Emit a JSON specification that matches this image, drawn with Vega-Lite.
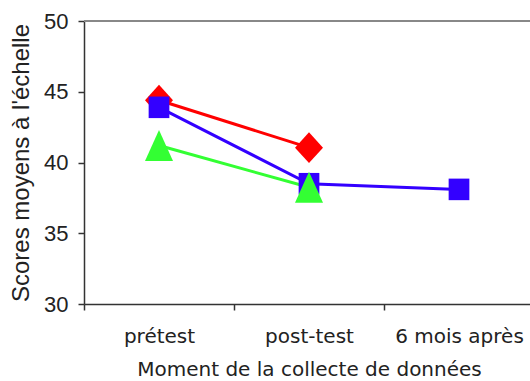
{
  "$schema": "https://vega.github.io/schema/vega-lite/v6.json",
  "width": 446,
  "height": 283,
  "autosize": "none",
  "padding": {"left": 84, "top": 21, "right": 0, "bottom": 77},
  "background": "white",
  "config": {
    "view": {"stroke": null},
    "axis": {
      "grid": false,
      "domainColor": "#333333",
      "domainWidth": 1.5,
      "tickColor": "#333333",
      "tickWidth": 1.5,
      "tickSize": 6,
      "labelColor": "#222222",
      "titleColor": "#222222",
      "titleFontWeight": "normal"
    }
  },
  "data": {
    "values": [
      {"groupe": "Groupe 1", "moment": "prétest", "score": 44.4},
      {"groupe": "Groupe 1", "moment": "post-test", "score": 41.05},
      {"groupe": "Groupe 2", "moment": "prétest", "score": 43.9},
      {"groupe": "Groupe 2", "moment": "post-test", "score": 38.5},
      {"groupe": "Groupe 2", "moment": "6 mois après", "score": 38.1},
      {"groupe": "Groupe 3", "moment": "prétest", "score": 41.2},
      {"groupe": "Groupe 3", "moment": "post-test", "score": 38.25}
    ]
  },
  "layer": [
    {
      "mark": {"type": "rule", "color": "#888888", "strokeWidth": 2},
      "encoding": {"y": {"datum": 50, "type": "quantitative"}}
    },
    {
      "mark": {"type": "line", "strokeWidth": 3},
      "encoding": {
        "x": {
          "field": "moment",
          "type": "nominal",
          "sort": ["prétest", "post-test", "6 mois après"],
          "scale": {
            "domain": ["prétest", "post-test", "6 mois après"],
            "range": [0, 450],
            "paddingInner": 0,
            "paddingOuter": 0
          },
          "axis": {
            "title": "Moment de la collecte de données",
            "labelAngle": 0,
            "tickBand": "extent",
            "labelFont": "DejaVu Sans",
            "labelFontSize": 20,
            "labelPadding": 16,
            "titleFont": "DejaVu Sans",
            "titleFontSize": 20,
            "titlePadding": 13
          }
        },
        "y": {
          "field": "score",
          "type": "quantitative",
          "scale": {"domain": [30, 50], "nice": false, "zero": false},
          "axis": {
            "title": "Scores moyens à l'échelle",
            "values": [30, 35, 40, 45, 50],
            "labelFont": "Liberation Sans",
            "labelFontSize": 22,
            "labelPadding": 10,
            "titleFont": "Liberation Sans",
            "titleFontSize": 24,
            "titlePadding": 10
          }
        },
        "color": {
          "field": "groupe",
          "type": "nominal",
          "scale": {
            "domain": ["Groupe 1", "Groupe 2", "Groupe 3"],
            "range": ["#FF0000", "#3300FF", "#33FF33"]
          },
          "legend": null
        }
      }
    },
    {
      "mark": {"type": "point", "filled": true, "opacity": 1, "size": 784},
      "encoding": {
        "x": {"field": "moment", "type": "nominal", "sort": ["prétest", "post-test", "6 mois après"]},
        "y": {"field": "score", "type": "quantitative"},
        "color": {"field": "groupe", "type": "nominal", "legend": null},
        "shape": {
          "field": "groupe",
          "type": "nominal",
          "scale": {
            "domain": ["Groupe 1", "Groupe 2", "Groupe 3"],
            "range": [
              "M0,-1.1L1,0L0,1.1L-1,0Z",
              "M-0.74,-0.77L0.74,-0.77L0.74,0.77L-0.74,0.77Z",
              "M0,-1.1L1,1.1L-1,1.1Z"
            ]
          },
          "legend": null
        }
      }
    }
  ]
}
